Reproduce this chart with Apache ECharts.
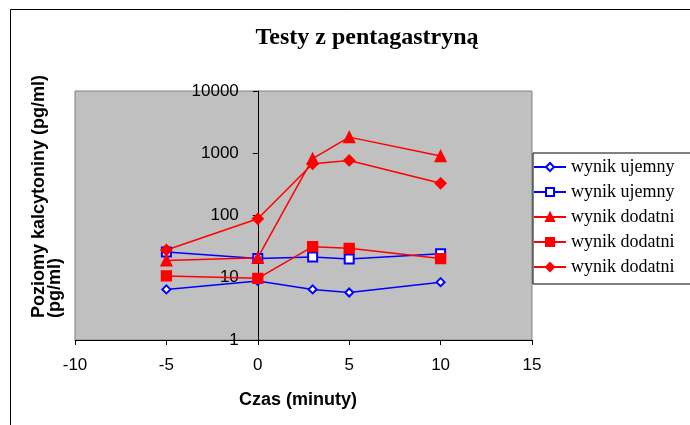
<!DOCTYPE html>
<html>
<head>
<meta charset="utf-8">
<script src="https://cdn.jsdelivr.net/npm/echarts@6/dist/echarts.min.js"></script>
<style>
  html, body { margin: 0; padding: 0; background: #fff; }
  #chart { width: 690px; height: 425px; }
</style>
</head>
<body>
<div id="chart"></div>
<script>
// Sampling times (minutes relative to pentagastrin injection)
const czas = [-5, 0, 3, 5, 10];

// Calcitonin levels (pg/ml) per patient
const ujemny1 = [6.5, 8.9, 6.5, 5.8, 8.5];
const ujemny2 = [25.9, 20.3, 21.5, 20.0, 24.4];
const dodatni1 = [19, 21, 817, 1816, 902];
const dodatni2 = [10.7, 9.8, 31.6, 29.7, 20.3];
const dodatni3 = [27.9, 88.5, 679, 767, 329];

// Axis ranges
const xTicks = [-10, 15, 5];       // min, max, step
const yRange = [1, 10000];

// Series keys and the legend text shown for each
const seriesKeys = ['ujemny1', 'ujemny2', 'dodatni1', 'dodatni2', 'dodatni3'];
const legendText = ['wynik ujemny', 'wynik ujemny', 'wynik dodatni', 'wynik dodatni', 'wynik dodatni'];

const BLUE = '#0000FF';
const RED = '#FF0000';

// Plot box in pixels
const PLOT_LEFT = 75, PLOT_RIGHT = 532;

function pairs(vals) {
  return czas.map((t, i) => [t, vals[i]]);
}

function lineSeries(key, vals, color, symbol, size) {
  return {
    name: key,
    type: 'line',
    data: pairs(vals),
    symbol: symbol,
    symbolSize: size,
    showAllSymbol: true,
    lineStyle: { color: color, width: 1.5 },
    itemStyle: { color: color, borderColor: color, borderWidth: 1.3 },
    emphasis: { disabled: true },
    animation: false
  };
}

// The value axis crosses the time axis at t = 0
const yAxisOffset = -(PLOT_RIGHT - PLOT_LEFT) * (0 - xTicks[0]) / (xTicks[1] - xTicks[0]);

const chart = echarts.init(document.getElementById('chart'), null, { renderer: 'canvas' });

chart.setOption({
  animation: false,
  backgroundColor: '#ffffff',
  graphic: [
    {
      type: 'rect',
      shape: { x: 10.5, y: 9.5, width: 720, height: 440 },
      style: { fill: 'none', stroke: '#000', lineWidth: 1 },
      z: -10
    },
    {
      type: 'text',
      x: 367,
      y: 38,
      style: {
        text: 'Testy z pentagastryną',
        font: 'bold 24px "Liberation Serif", "Times New Roman", serif',
        fill: '#000',
        textAlign: 'center',
        textVerticalAlign: 'middle'
      }
    },
    {
      type: 'text',
      x: 298,
      y: 400,
      style: {
        text: 'Czas (minuty)',
        font: 'bold 18px "Liberation Sans", Arial, sans-serif',
        fill: '#000',
        textAlign: 'center',
        textVerticalAlign: 'middle'
      }
    },
    {
      type: 'text',
      x: 31,
      y: 318,
      rotation: Math.PI / 2,
      style: {
        text: 'Poziomy kalcytoniny (pg/ml)\n(pg/ml)',
        font: 'bold 18px "Liberation Sans", Arial, sans-serif',
        lineHeight: 16,
        fill: '#000',
        textAlign: 'left',
        textVerticalAlign: 'top'
      }
    }
  ],
  grid: {
    left: PLOT_LEFT,
    right: 690 - PLOT_RIGHT,
    top: 91,
    bottom: 85,
    show: true,
    backgroundColor: '#C0C0C0',
    borderColor: '#808080',
    borderWidth: 1
  },
  legend: {
    orient: 'vertical',
    left: 533,
    top: 153,
    padding: [5, 60, 8, 0],
    itemWidth: 32,
    itemHeight: 10,
    itemGap: 7,
    backgroundColor: '#fff',
    borderColor: '#000',
    borderWidth: 1,
    data: seriesKeys,
    formatter: function (key) {
      return legendText[seriesKeys.indexOf(key)];
    },
    textStyle: {
      fontFamily: '"Liberation Serif", "Times New Roman", serif',
      fontSize: 18,
      lineHeight: 18,
      color: '#000'
    },
    selectedMode: false
  },
  xAxis: {
    type: 'value',
    min: xTicks[0],
    max: xTicks[1],
    interval: xTicks[2],
    axisLine: { onZero: false, lineStyle: { color: '#000', width: 1 } },
    axisTick: { show: true, length: 5, lineStyle: { color: '#000' } },
    axisLabel: {
      margin: 17,
      fontFamily: '"Liberation Sans", Arial, sans-serif',
      fontSize: 17,
      color: '#000'
    },
    splitLine: { show: false }
  },
  yAxis: {
    type: 'log',
    logBase: 10,
    min: yRange[0],
    max: yRange[1],
    position: 'left',
    offset: yAxisOffset,
    axisLine: { show: true, onZero: false, lineStyle: { color: '#000', width: 1 } },
    axisTick: { show: true, length: 5, lineStyle: { color: '#000' } },
    axisLabel: {
      margin: 19,
      fontFamily: '"Liberation Sans", Arial, sans-serif',
      fontSize: 17,
      color: '#000',
      formatter: function (v) { return String(Math.round(v)); }
    },
    minorTick: { show: false },
    splitLine: { show: false }
  },
  series: [
    lineSeries(seriesKeys[0], ujemny1, BLUE, 'emptyDiamond', 8),
    lineSeries(seriesKeys[1], ujemny2, BLUE, 'emptyRect', 9),
    lineSeries(seriesKeys[2], dodatni1, RED, 'triangle', 11),
    lineSeries(seriesKeys[3], dodatni2, RED, 'rect', 10),
    lineSeries(seriesKeys[4], dodatni3, RED, 'diamond', 11)
  ]
});
</script>
</body>
</html>
